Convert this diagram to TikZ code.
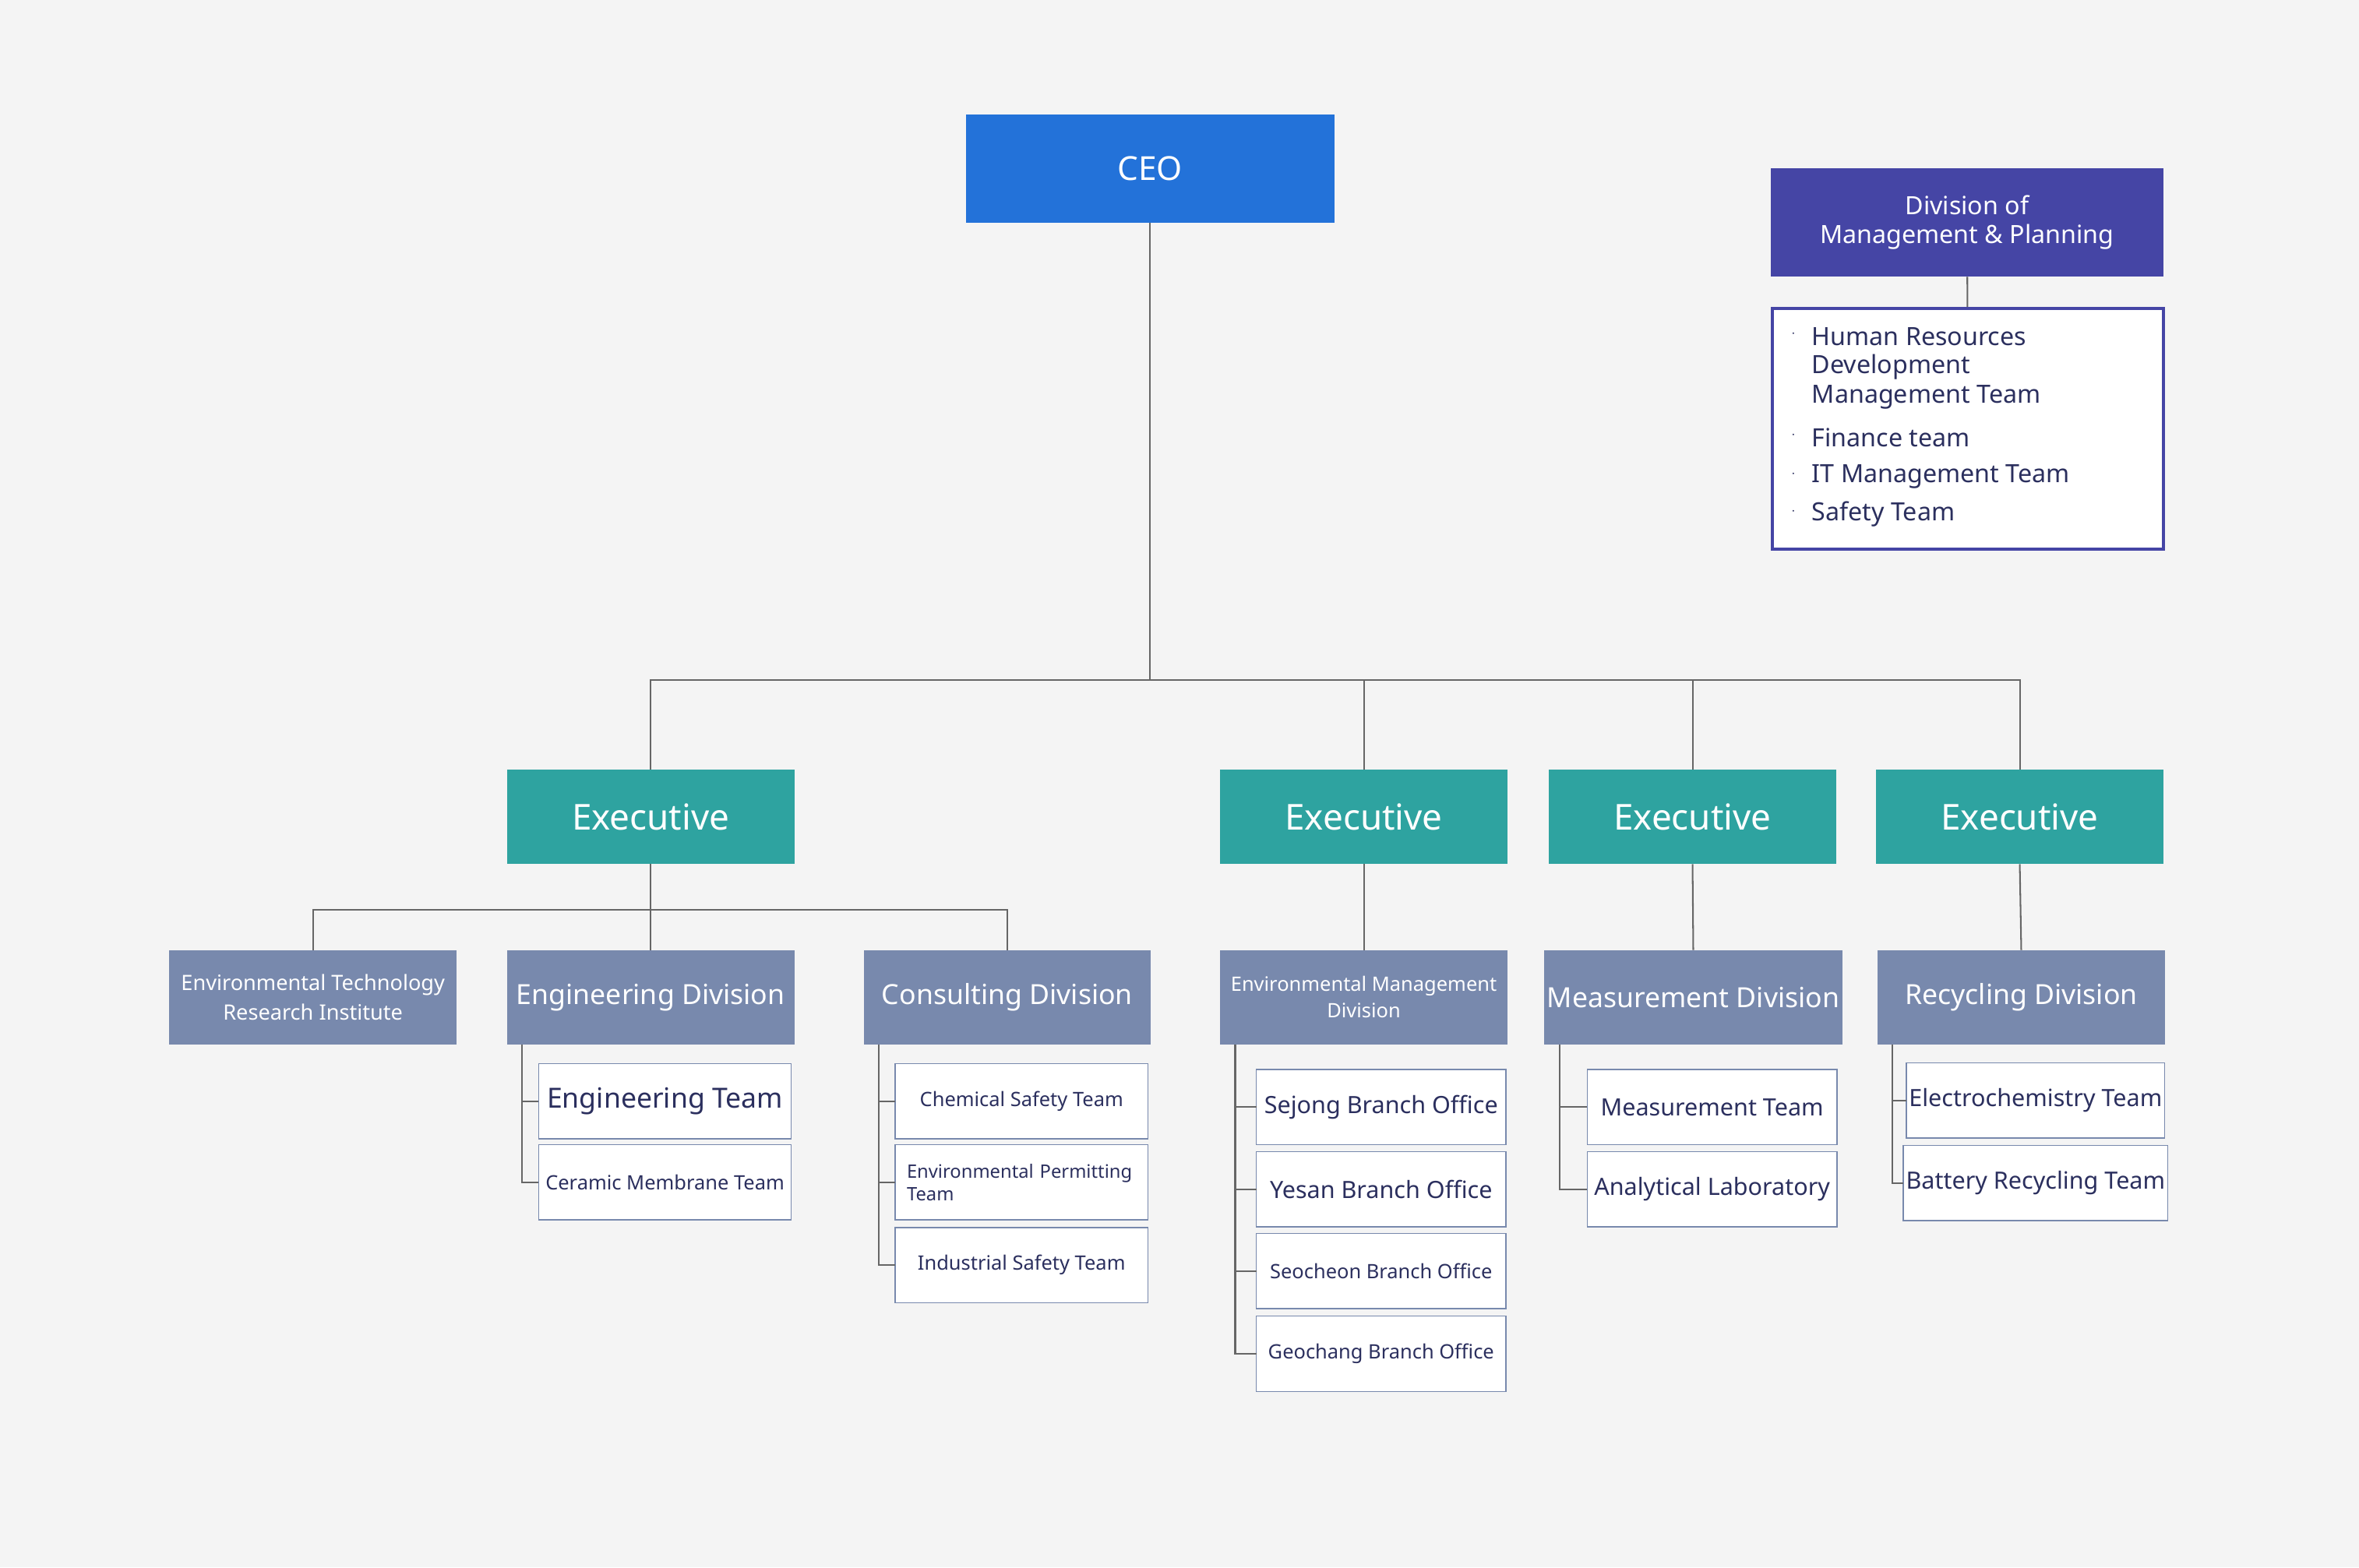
\documentclass[tikz,border=0pt]{standalone}
\usepackage{fontspec}
\setmainfont{Noto Sans}
\usetikzlibrary{positioning}
\definecolor{bgc}{HTML}{F4F4F4}
\definecolor{ceoc}{HTML}{2372D9}
\definecolor{mgmc}{HTML}{4545A5}
\definecolor{exc}{HTML}{2EA3A0}
\definecolor{divc}{HTML}{7889AD}
\definecolor{txc}{HTML}{2B2F5E}
\definecolor{lnc}{HTML}{666666}
\begin{document}
\begin{tikzpicture}[x=0.02cm, y=-0.02cm,
box/.style = {minimum height=#1*0.02cm, inner sep=1pt, outer sep=0pt},
head/.style = {box=72, fill=ceoc, text=white, font=\fontsize{12.5}{14}\selectfont},
exec/.style = {box=63, fill=exc, text=white, font=\fontsize{13.5}{15}\selectfont, minimum width=3.82cm},
div/.style  = {box=63, fill=divc, text=white, font=\fontsize{10.5}{12}\selectfont, minimum width=3.82cm, align=center},
team/.style = {box=50, draw=divc, fill=white, text=txc, minimum width=3.36cm, align=center},
link/.style = {draw=lnc, line width=0.6pt}
                    ]
	% background
	\fill[bgc] (0,0) rectangle (1568,1042);
	% top
	\node[head, minimum width=4.9cm] (ceo) at (764.5,112) {CEO};
	\node[box=72, fill=mgmc, text=white, minimum width=5.22cm, align=center,
	      font=\fontsize{9.5}{11}\selectfont] (mgm) at (1307.5,148) {Division of\\Management \& Planning};
	\node[draw=mgmc, line width=1.2pt, fill=white, minimum width=5.2cm, minimum height=3.2cm,
	      inner sep=0pt] (mgmlist) at (1308,285) {};
	\draw[link] (mgm) -- (mgmlist);
	\foreach \y/\t in {224/Human Resources, 291/Finance team, 317/IT Management Team, 342/Safety Team}
	  \node[text=txc, font=\fontsize{5}{6}\selectfont] at (1192,\y-2) {$\cdot$};
	\foreach \y/\t in {224/Human Resources, 244/Development, 264/Management Team,
	                   291/Finance team, 317/IT Management Team, 342/Safety Team}
	  \node[anchor=west, inner sep=0pt, text=txc, font=\fontsize{9.5}{11}\selectfont] at (1204,\y) {\t};
	% executives
	\node[exec] (ex1) at (432.5,543) {Executive};
	\node[exec] (ex2) at (906.5,543) {Executive};
	\node[exec] (ex3) at (1125,543) {Executive};
	\node[exec] (ex4) at (1342.5,543) {Executive};
	\coordinate (bus) at (764.5,452);
	\draw[link] (ceo.south) -- (bus);
	\draw[link] (ex1.north) |- (bus) -| (ex4.north);
	\draw[link] (ex2.north) -- (ex2.north |- bus);
	\draw[link] (ex3.north) -- (ex3.north |- bus);
	% divisions
	\node[div, font=\fontsize{8}{11}\selectfont] (etri) at (208,663) {Environmental Technology\\Research Institute};
	\node[div] (eng) at (432.5,663) {Engineering Division};
	\node[div] (cons) at (669.5,663) {Consulting Division};
	\node[div, font=\fontsize{7.5}{10}\selectfont] (emd) at (906.5,663) {Environmental Management\\Division};
	\node[div] (meas) at (1125.5,663) {Measurement Division};
	\node[div] (rec) at (1343.5,663) {Recycling Division};
	\coordinate (split) at (432.5,605);
	\draw[link] (ex1.south) -- (eng.north);
	\draw[link] (etri.north) |- (split) -| (cons.north);
	\draw[link] (ex2.south) -- (emd.north);
	\draw[link] (ex3.south) -- (meas.north);
	\draw[link] (ex4.south) -- (rec.north);
	% teams
	\node[team, font=\fontsize{10.5}{12}\selectfont] (eng1) at (442,732) {Engineering Team};
	\node[team, font=\fontsize{7.5}{9}\selectfont] (eng2) at (442,786) {Ceramic Membrane Team};
	\node[team, font=\fontsize{7.5}{9}\selectfont] (cons1) at (679,732) {Chemical Safety Team};
	\node[team, font=\fontsize{7}{8.5}\selectfont, text width=3.05cm, align=left] (cons2) at (679,786) {Environmental Permitting\\Team};
	\node[team, font=\fontsize{7.5}{9}\selectfont] (cons3) at (679,841) {Industrial Safety Team};
	\node[team, minimum width=3.32cm, font=\fontsize{9}{11}\selectfont] (emd1) at (918,736) {Sejong Branch Office};
	\node[team, minimum width=3.32cm, font=\fontsize{9}{11}\selectfont] (emd2) at (918,790.5) {Yesan Branch Office};
	\node[team, minimum width=3.32cm, font=\fontsize{7.5}{9}\selectfont] (emd3) at (918,845) {Seocheon Branch Office};
	\node[team, minimum width=3.32cm, font=\fontsize{7.5}{9}\selectfont] (emd4) at (918,900) {Geochang Branch Office};
	\node[team, minimum width=3.32cm, font=\fontsize{9}{11}\selectfont] (meas1) at (1138,736) {Measurement Team};
	\node[team, minimum width=3.32cm, font=\fontsize{9}{11}\selectfont] (meas2) at (1138,790.5) {Analytical Laboratory};
	\node[team, font=\fontsize{9}{11}\selectfont] (rec1) at (1353,731.5) {Electrochemistry Team};
	\node[team, font=\fontsize{9}{11}\selectfont] (rec2) at (1353,786.5) {Battery Recycling Team};
	% brackets
	\foreach \d/\ts in {eng/{eng1,eng2}, cons/{cons1,cons2,cons3}, emd/{emd1,emd2,emd3,emd4},
	                    meas/{meas1,meas2}, rec/{rec1,rec2}}
	  \foreach \t in \ts
	    \draw[link] (\d.south west) ++(10,0) |- (\t.west);
\end{tikzpicture}
\end{document}
